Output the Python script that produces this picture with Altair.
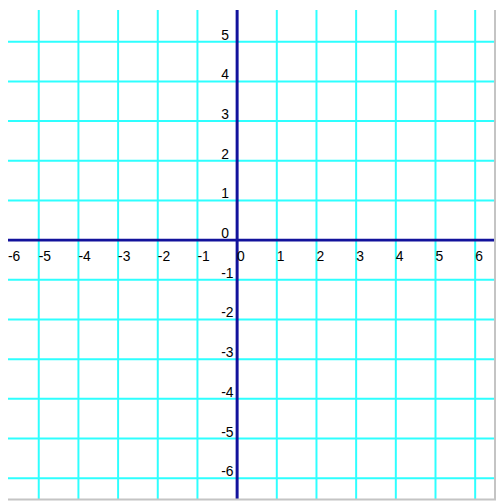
import altair as alt
import pandas as pd

# tick labels / grid positions
x_ticks = [-6, -5, -4, -3, -2, -1, 0, 1, 2, 3, 4, 5, 6]
y_ticks = [-6, -5, -4, -3, -2, -1, 0, 1, 2, 3, 4, 5]
x_grid = [-6, -5, -4, -3, -2, -1, 1, 2, 3, 4, 5, 6]
y_grid = [-6, -5, -4, -3, -2, -1, 1, 2, 3, 4, 5, 6]

W, H = 492, 494
X_MIN, X_MAX = -5.775, 6.525
xs = alt.Scale(domain=[X_MIN, X_MAX], nice=False, zero=False)
ys = alt.Scale(domain=[-6.55, 5.8], nice=False, zero=False)

GRID = "#2effff"
AXIS = "#12129c"
FONT = "Liberation Sans"

vgrid = alt.Chart(pd.DataFrame({"x": x_grid})).mark_rule(
    color=GRID, strokeWidth=2, clip=True
).encode(x=alt.X("x:Q", scale=xs, axis=None))

hgrid = alt.Chart(pd.DataFrame({"y": y_grid})).mark_rule(
    color=GRID, strokeWidth=2, clip=True
).encode(y=alt.Y("y:Q", scale=ys, axis=None))

vaxis = alt.Chart(pd.DataFrame({"x": [0]})).mark_rule(
    color=AXIS, strokeWidth=3, clip=True
).encode(x=alt.X("x:Q", scale=xs, axis=None))

haxis = alt.Chart(pd.DataFrame({"y": [0]})).mark_rule(
    color=AXIS, strokeWidth=3, clip=True
).encode(y=alt.Y("y:Q", scale=ys, axis=None))

xdf = pd.DataFrame({"v": x_ticks, "z": [0] * len(x_ticks), "lab": [str(v) for v in x_ticks]})
ydf = pd.DataFrame({"v": y_ticks, "z": [0] * len(y_ticks), "lab": [str(v) for v in y_ticks]})

xlabels = alt.Chart(xdf).transform_calculate(
    px=f"max(datum.v, {X_MIN})"
).mark_text(
    align="left", baseline="alphabetic", dx=0, dy=21,
    font=FONT, fontSize=14, color="black"
).encode(
    x=alt.X("px:Q", scale=xs, axis=None),
    y=alt.Y("z:Q", scale=ys, axis=None),
    text="lab:N",
)

ylabels = alt.Chart(ydf).mark_text(
    align="left", baseline="alphabetic", dx=-16, dy=-2,
    font=FONT, fontSize=14, color="black"
).encode(
    x=alt.X("z:Q", scale=xs, axis=None),
    y=alt.Y("v:Q", scale=ys, axis=None),
    text="lab:N",
)

right_border = alt.Chart(pd.DataFrame({"a": [0]})).mark_rule(
    color="#c4c4c4", strokeWidth=2
).encode(x=alt.value(W - 1), y=alt.value(0), y2=alt.value(H))

bottom_border = alt.Chart(pd.DataFrame({"a": [0]})).mark_rule(
    color="#c4c4c4", strokeWidth=2
).encode(x=alt.value(0), x2=alt.value(W), y=alt.value(H - 0.5))

chart = alt.layer(
    vgrid, hgrid, vaxis, haxis, xlabels, ylabels, right_border, bottom_border
).properties(
    width=W, height=H, autosize="none", padding=0, background="white"
).configure_view(strokeWidth=0)

chart.save("out.html", embed_options={"renderer": "svg", "actions": False})
